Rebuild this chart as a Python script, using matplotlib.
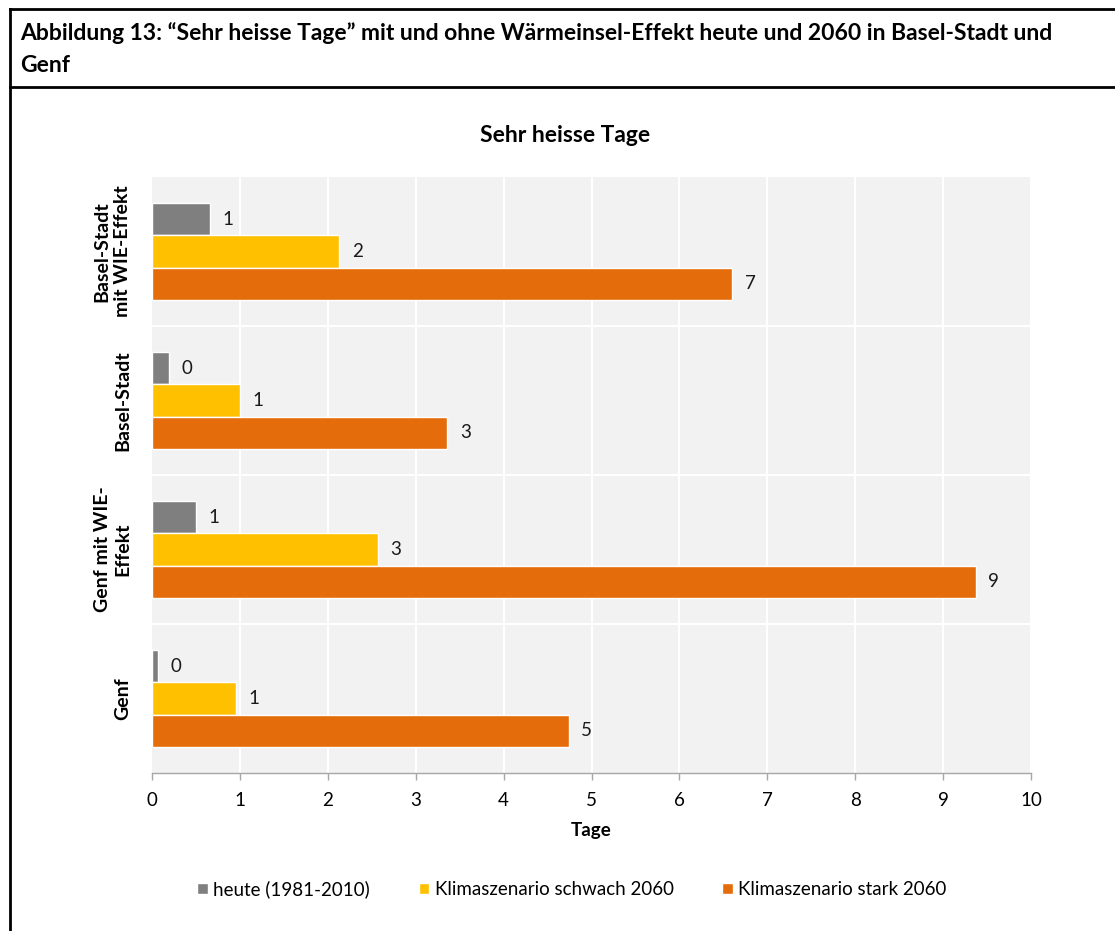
import numpy as np
import matplotlib
matplotlib.use("Agg")
import matplotlib.pyplot as plt
from matplotlib.lines import Line2D

plt.rcParams['font.family'] = ['Lato', 'DejaVu Sans']

# data
categories = ["Basel-Stadt\nmit WIE-Effekt", "Basel-Stadt", "Genf mit WIE-\nEffekt", "Genf"]
series = ["heute (1981-2010)", "Klimaszenario schwach 2060", "Klimaszenario stark 2060"]
heute = [0.66, 0.19, 0.50, 0.065]
schwach = [2.13, 1.00, 2.57, 0.96]
stark = [6.60, 3.36, 9.37, 4.74]
labels_heute = ["1", "0", "1", "0"]
labels_schwach = ["2", "1", "3", "1"]
labels_stark = ["7", "3", "9", "5"]
colors = ["#7F7F7F", "#FFC000", "#E46C0A"]

W, H = 1115, 931
fig = plt.figure(figsize=(W / 100, H / 100), dpi=100)


def fx(px):
    return px / W


def fy(py):
    return 1 - py / H


# header frame like the report's table box
lw = 2
fig.add_artist(Line2D([fx(10), fx(10)], [fy(9), 0], color="black", lw=lw, transform=fig.transFigure))
fig.add_artist(Line2D([fx(10), 1], [fy(9), fy(9)], color="black", lw=lw, transform=fig.transFigure))
fig.add_artist(Line2D([fx(10), 1], [fy(87), fy(87)], color="black", lw=lw, transform=fig.transFigure))
fig.text(fx(20), fy(33), "Abbildung 13: \u201cSehr heisse Tage\u201d mit und ohne W\u00e4rmeinsel-Effekt heute und 2060 in Basel-Stadt und",
         fontsize=16.5, fontweight="bold", va="center", ha="left")
fig.text(fx(20), fy(65), "Genf", fontsize=16.5, fontweight="bold", va="center", ha="left")

ax = fig.add_axes([fx(152), fy(773), fx(1031) - fx(152), (773 - 177) / H])
ax.set_facecolor("#F2F2F2")

y = np.arange(len(categories))
h = 0.218
all_vals = [heute, schwach, stark]
all_labels = [labels_heute, labels_schwach, labels_stark]
for k, (vals, labs) in enumerate(zip(all_vals, all_labels)):
    pos = y + (k - 1) * h
    ax.barh(pos, vals, height=h, color=colors[k], edgecolor="white", linewidth=1,
            label=series[k], zorder=3)
    for v, p, t in zip(vals, pos, labs):
        ax.annotate(t, (v, p), xytext=(9, 0), textcoords="offset points",
                    ha="left", va="center", fontsize=13.5, color="#1a1a1a", zorder=4)

ax.set_xlim(0, 10)
ax.set_ylim(len(categories) - 0.5, -0.5)
ax.set_xticks(range(0, 11))
for xv in range(1, 11):
    ax.axvline(xv, color="white", lw=1.5, zorder=1)
for yv in [0.5, 1.5, 2.5]:
    ax.axhline(yv, color="white", lw=1.5, zorder=1)

ax.set_yticks(y)
ax.set_yticklabels(categories, rotation=90, va="center", ha="right", multialignment="center",
                   fontsize=14, fontweight="bold", linespacing=1.25)
ax.tick_params(axis="y", length=0, pad=15)
ax.tick_params(axis="x", length=5, width=1, color="#A6A6A6", direction="out", pad=9, labelsize=13.5)
for s in ["top", "right", "left"]:
    ax.spines[s].set_visible(False)
ax.spines["bottom"].set_color("#A6A6A6")
ax.spines["bottom"].set_linewidth(1)
ax.set_xlabel("Tage", fontsize=13.5, fontweight="bold", labelpad=9)

fig.text(fx(565), fy(136), "Sehr heisse Tage", fontsize=16.5, fontweight="bold", ha="center", va="center")

fig.legend(loc="center", bbox_to_anchor=(fx(572), fy(889)), ncol=3, frameon=False,
           fontsize=13.5, handlelength=0.55, handleheight=0.55, handletextpad=0.3,
           columnspacing=2.6)

fig.savefig("out.png", dpi=100)
